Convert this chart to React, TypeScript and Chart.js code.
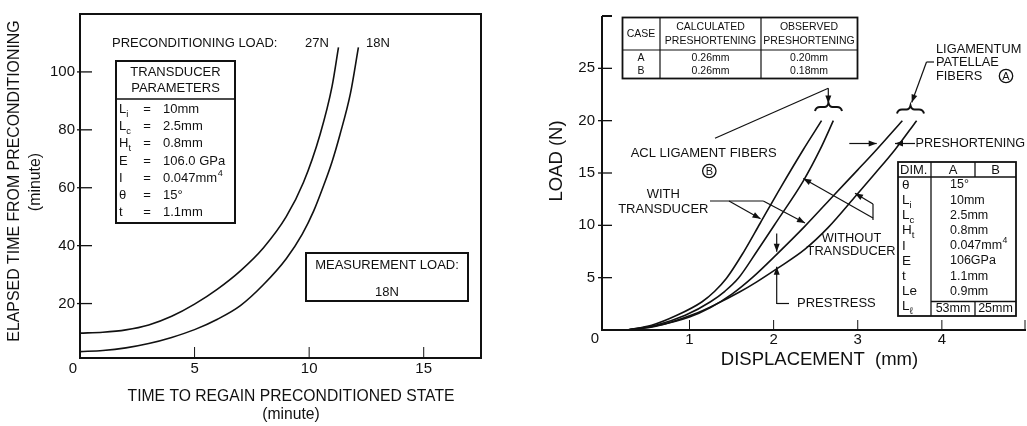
import React, { useEffect, useRef } from 'react';
import { Chart, registerables } from 'chart.js';

Chart.register(...registerables);

const FONT = "'Liberation Sans', Arial, Helvetica, sans-serif";
const INK = '#111111';

// ---------- Left panel data ----------
const load27X = [0, 1, 2, 3, 4, 5, 6, 7, 8, 9, 9.75, 10.48, 11, 11.28];
const load27Y = [9.8, 10.1, 10.9, 12.6, 15.6, 19.8, 25.0, 31.3, 39.2, 50, 61.8, 78.5, 95, 108.5];
const load18X = [0, 1, 2, 3, 4, 5, 6, 7, 8, 9, 9.7, 10.2, 10.62, 11.0, 11.35, 11.8, 12.15];
const load18Y = [3.4, 3.8, 4.7, 6.2, 8.3, 11, 14.6, 19.3, 26.5, 35.5, 44, 52, 60.5, 69, 78.5, 92.5, 108.5];
const leftXTicks = [0, 5, 10, 15];
const leftYTicks = [20, 40, 60, 80, 100];

// ---------- Right panel data ----------
const aclWithX = [0.26, 0.55, 0.85, 1.15, 1.3, 1.44, 1.64, 1.84, 2.09, 2.35, 2.57];
const aclWithY = [0, 0.45, 1.4, 2.7, 3.7, 4.94, 7.4, 10.2, 13.7, 17.2, 20];
const aclWithoutX = [0.26, 0.6, 0.95, 1.25, 1.42, 1.58, 1.8, 2.04, 2.35, 2.55, 2.71];
const aclWithoutY = [0, 0.45, 1.4, 2.7, 3.7, 4.94, 7.5, 10.4, 14.2, 17.2, 20];
const lpWithX = [0.26, 0.6, 1.0, 1.25, 1.5, 1.76, 2.04, 2.37, 2.73, 3.0, 3.22, 3.53];
const lpWithY = [0, 0.4, 1.25, 2.15, 3.4, 5.1, 7.25, 9.9, 13.0, 15.3, 17.2, 20];
const lpWithoutX = [0.26, 0.6, 1.05, 1.3, 1.6, 1.8, 2.04, 2.37, 2.65, 2.96, 3.2, 3.44, 3.7];
const lpWithoutY = [0, 0.35, 1.5, 2.4, 3.65, 4.6, 5.86, 7.7, 9.8, 12.65, 14.9, 17.2, 20];
const rightXTicks = [0, 1, 2, 3, 4, 5];
const rightYTicks = [5, 10, 15, 20, 25, 30];

// ---------- Table texts ----------
const transducerRows: [string, string, string, string][] = [
  ['L', 'i', '10mm', ''],
  ['L', 'c', '2.5mm', ''],
  ['H', 't', '0.8mm', ''],
  ['E', '', '106.0 GPa', ''],
  ['I', '', '0.047mm', '4'],
  ['θ', '', '15°', ''],
  ['t', '', '1.1mm', ''],
];
const caseRows: [string, string, string][] = [
  ['A', '0.26mm', '0.20mm'],
  ['B', '0.26mm', '0.18mm'],
];
const dimRows: [string, string, string, string][] = [
  ['θ', '', '15°', ''],
  ['L', 'i', '10mm', ''],
  ['L', 'c', '2.5mm', ''],
  ['H', 't', '0.8mm', ''],
  ['I', '', '0.047mm', '4'],
  ['E', '', '106GPa', ''],
  ['t', '', '1.1mm', ''],
  ['Le', '', '0.9mm', ''],
];
const dimLast = ['L', 'ℓ', '53mm', '25mm'];

function zip(xs: number[], ys: number[]) {
  return xs.map((x, i) => ({ x, y: ys[i] }));
}

function ds(xs: number[], ys: number[]) {
  return {
    data: zip(xs, ys),
    borderColor: INK,
    borderWidth: 1.6,
    pointRadius: 0,
    fill: false,
    cubicInterpolationMode: 'monotone' as const,
  };
}

function T(ctx: CanvasRenderingContext2D, s: string, x: number, y: number, size: number, align: CanvasTextAlign = 'left') {
  ctx.font = `${size}px ${FONT}`;
  ctx.textAlign = align;
  ctx.textBaseline = 'middle';
  ctx.fillStyle = INK;
  ctx.fillText(s, x, y);
}

function W(ctx: CanvasRenderingContext2D, s: string, size: number) {
  ctx.font = `${size}px ${FONT}`;
  return ctx.measureText(s).width;
}

function subLabel(ctx: CanvasRenderingContext2D, main: string, sub: string, x: number, y: number, size: number) {
  T(ctx, main, x, y, size);
  if (sub) {
    const w = W(ctx, main, size);
    T(ctx, sub, x + w, y + 5, size * 0.72);
  }
}

function supValue(ctx: CanvasRenderingContext2D, val: string, sup: string, x: number, y: number, size: number) {
  T(ctx, val, x, y, size);
  if (sup) {
    const w = W(ctx, val, size);
    T(ctx, sup, x + w + 0.5, y - 5, size * 0.7);
  }
}

function line(ctx: CanvasRenderingContext2D, x1: number, y1: number, x2: number, y2: number, lw = 1.2) {
  ctx.lineWidth = lw;
  ctx.strokeStyle = INK;
  ctx.beginPath();
  ctx.moveTo(x1, y1);
  ctx.lineTo(x2, y2);
  ctx.stroke();
}

function arrow(ctx: CanvasRenderingContext2D, x1: number, y1: number, x2: number, y2: number, len = 8, w = 3) {
  line(ctx, x1, y1, x2, y2);
  const a = Math.atan2(y2 - y1, x2 - x1);
  ctx.fillStyle = INK;
  ctx.beginPath();
  ctx.moveTo(x2, y2);
  ctx.lineTo(x2 - len * Math.cos(a) + w * Math.sin(a), y2 - len * Math.sin(a) - w * Math.cos(a));
  ctx.lineTo(x2 - len * Math.cos(a) - w * Math.sin(a), y2 - len * Math.sin(a) + w * Math.cos(a));
  ctx.closePath();
  ctx.fill();
}

function brace(ctx: CanvasRenderingContext2D, l: number, r: number, cy: number) {
  const cx = (l + r) / 2;
  ctx.lineWidth = 2;
  ctx.strokeStyle = INK;
  ctx.beginPath();
  ctx.moveTo(l, cy + 4);
  ctx.quadraticCurveTo(l + 1, cy, l + 5, cy);
  ctx.lineTo(cx - 4, cy);
  ctx.quadraticCurveTo(cx - 1, cy, cx, cy - 4);
  ctx.quadraticCurveTo(cx + 1, cy, cx + 4, cy);
  ctx.lineTo(r - 5, cy);
  ctx.quadraticCurveTo(r - 1, cy, r, cy + 4);
  ctx.stroke();
}

function circled(ctx: CanvasRenderingContext2D, letter: string, cx: number, cy: number, r: number) {
  ctx.lineWidth = 1.3;
  ctx.strokeStyle = INK;
  ctx.beginPath();
  ctx.arc(cx, cy, r, 0, Math.PI * 2);
  ctx.stroke();
  T(ctx, letter, cx, cy + 0.5, 11, 'center');
}

const leftDecor = {
  id: 'leftDecor',
  afterDraw(chart: any) {
    const ctx: CanvasRenderingContext2D = chart.ctx;
    const a = chart.chartArea;
    const xs = chart.scales.x;
    const ys = chart.scales.y;
    ctx.save();
    // frame
    ctx.lineWidth = 2;
    ctx.strokeStyle = INK;
    ctx.strokeRect(a.left, a.top, a.right - a.left, a.bottom - a.top);
    // ticks
    leftXTicks.forEach((v) => {
      if (v === 0) return;
      const px = xs.getPixelForValue(v);
      line(ctx, px, a.bottom, px, a.bottom - 11, 1);
    });
    leftYTicks.forEach((v) => {
      const py = ys.getPixelForValue(v);
      line(ctx, a.left - 3, py, a.left + 12, py, 1.3);
    });
    T(ctx, '0', 73, 369, 15, 'center');
    // axis titles
    T(ctx, 'TIME TO REGAIN PRECONDITIONED STATE', 291, 397, 15.7, 'center');
    T(ctx, '(minute)', 291, 415, 15.7, 'center');
    ctx.save();
    ctx.translate(15, 181);
    ctx.rotate(-Math.PI / 2);
    T(ctx, 'ELAPSED TIME FROM PRECONDITIONING', 0, 0, 15.9, 'center');
    ctx.restore();
    ctx.save();
    ctx.translate(36, 182);
    ctx.rotate(-Math.PI / 2);
    T(ctx, '(minute)', 0, 0, 15.9, 'center');
    ctx.restore();
    // preconditioning labels
    T(ctx, 'PRECONDITIONING LOAD:', 112, 43, 13);
    T(ctx, '27N', 305, 43, 13);
    T(ctx, '18N', 366, 43, 13);
    // transducer box
    ctx.lineWidth = 2;
    ctx.strokeStyle = INK;
    ctx.strokeRect(116, 61, 119, 162);
    line(ctx, 116, 99, 235, 99, 1.5);
    T(ctx, 'TRANSDUCER', 175.5, 72, 13, 'center');
    T(ctx, 'PARAMETERS', 175.5, 88, 13, 'center');
    transducerRows.forEach((r, i) => {
      const y = 109.5 + i * 17.2;
      subLabel(ctx, r[0], r[1], 119, y, 13);
      T(ctx, '=', 147, y, 13, 'center');
      supValue(ctx, r[2], r[3], 163, y, 13);
    });
    // measurement box
    ctx.lineWidth = 2;
    ctx.strokeRect(306, 253, 162, 48);
    T(ctx, 'MEASUREMENT LOAD:', 387, 265, 13, 'center');
    T(ctx, '18N', 387, 292, 13, 'center');
    ctx.restore();
  },
};

const OFF = 520;

const rightDecor = {
  id: 'rightDecor',
  afterDraw(chart: any) {
    const ctx: CanvasRenderingContext2D = chart.ctx;
    const a = chart.chartArea;
    const xs = chart.scales.x;
    const ys = chart.scales.y;
    ctx.save();
    // axes
    line(ctx, a.left, a.top, a.left, a.bottom + 1, 2);
    line(ctx, a.left - 1, a.bottom, a.right, a.bottom, 2);
    rightYTicks.forEach((v) => {
      const py = ys.getPixelForValue(v);
      if (v === 30) {
        line(ctx, a.left, py, a.left + 10, py, 2);
      } else {
        line(ctx, a.left - 4, py, a.left + 10, py, 1.3);
      }
    });
    rightXTicks.forEach((v) => {
      if (v === 0) return;
      const px = Math.min(xs.getPixelForValue(v), a.right - 1);
      line(ctx, px, a.bottom, px, a.bottom - 10, 1);
    });

    ctx.translate(-OFF, 0);
    T(ctx, '0', 595, 339, 15, 'center');
    // axis titles
    T(ctx, 'DISPLACEMENT  (mm)', 819.5, 360, 18.5, 'center');
    ctx.save();
    ctx.translate(556.5, 161);
    ctx.rotate(-Math.PI / 2);
    T(ctx, 'LOAD (N)', 0, 0, 18.5, 'center');
    ctx.restore();

    // case table
    ctx.lineWidth = 1.8;
    ctx.strokeStyle = INK;
    ctx.strokeRect(622.5, 17.5, 235, 61);
    line(ctx, 622.5, 50, 857.5, 50, 1.2);
    line(ctx, 660, 17.5, 660, 78.5, 1.2);
    line(ctx, 761, 17.5, 761, 78.5, 1.2);
    T(ctx, 'CASE', 641, 34, 10.5, 'center');
    T(ctx, 'CALCULATED', 710.5, 27, 10.5, 'center');
    T(ctx, 'PRESHORTENING', 710.5, 41, 10.5, 'center');
    T(ctx, 'OBSERVED', 809, 27, 10.5, 'center');
    T(ctx, 'PRESHORTENING', 809, 41, 10.5, 'center');
    caseRows.forEach((r, i) => {
      const y = 58 + i * 13.2;
      T(ctx, r[0], 641, y, 10.5, 'center');
      T(ctx, r[1], 710.5, y, 10.5, 'center');
      T(ctx, r[2], 809, y, 10.5, 'center');
    });

    // ligamentum patellae label
    T(ctx, 'LIGAMENTUM', 936, 49.5, 12.8);
    T(ctx, 'PATELLAE', 936, 62.5, 12.8);
    T(ctx, 'FIBERS', 936, 76, 12.8);
    circled(ctx, 'A', 1006, 76, 6.7);
    line(ctx, 934, 62, 926.5, 62);
    arrow(ctx, 926.5, 62, 911.7, 102.5);
    brace(ctx, 897, 924, 109.5);

    // ACL label
    T(ctx, 'ACL LIGAMENT FIBERS', 630.7, 153.5, 13);
    circled(ctx, 'B', 709.3, 171, 6.7);
    line(ctx, 715, 138.3, 828.3, 88.3);
    arrow(ctx, 828.3, 88.3, 828.3, 103.5);
    brace(ctx, 815, 842, 107);

    // with transducer
    T(ctx, 'WITH', 663.3, 194.5, 13, 'center');
    T(ctx, 'TRANSDUCER', 663.3, 209, 13, 'center');
    line(ctx, 710, 201, 763.3, 201);
    arrow(ctx, 729, 201, 760.5, 218.8);
    arrow(ctx, 763.3, 201, 805, 223);

    // without transducer
    T(ctx, 'WITHOUT', 851.5, 238, 12.8, 'center');
    T(ctx, 'TRANSDUCER', 851, 251.5, 12.8, 'center');
    line(ctx, 873, 204, 873, 220);
    arrow(ctx, 873, 204, 855, 193.3);
    arrow(ctx, 873, 218, 803.3, 178.5);

    // preshortening
    T(ctx, 'PRESHORTENING', 915.5, 143.5, 12.6);
    arrow(ctx, 849.3, 143.5, 876.7, 143.5);
    arrow(ctx, 915, 143.5, 895, 143.5);

    // prestress
    arrow(ctx, 776.7, 233.5, 776.7, 251.7);
    line(ctx, 776.7, 303.5, 789, 303.5);
    arrow(ctx, 776.7, 304, 776.7, 266.7);
    T(ctx, 'PRESTRESS', 797, 303, 13);

    // dim table
    ctx.lineWidth = 1.8;
    ctx.strokeStyle = INK;
    ctx.strokeRect(898, 162, 118, 154);
    line(ctx, 898, 177, 1016, 177, 1.3);
    line(ctx, 931, 162, 931, 316, 1.3);
    line(ctx, 975, 162, 975, 177, 1.3);
    line(ctx, 931, 301.5, 1016, 301.5, 1.3);
    line(ctx, 975, 301.5, 975, 316, 1.3);
    T(ctx, 'DIM.', 900, 170, 13);
    T(ctx, 'A', 953, 170, 13, 'center');
    T(ctx, 'B', 995.5, 170, 13, 'center');
    dimRows.forEach((r, i) => {
      const y = 185 + i * 15.2;
      subLabel(ctx, r[0], r[1], 902, y, 13.5);
      supValue(ctx, r[2], r[3], 950, y, 12.5);
    });
    subLabel(ctx, dimLast[0], dimLast[1], 902, 306.5, 13.5);
    T(ctx, dimLast[2], 953, 308.5, 12.5, 'center');
    T(ctx, dimLast[3], 995.5, 308.5, 12.5, 'center');

    ctx.restore();
  },
};

function leftConfig(): any {
  return {
    type: 'line',
    data: { datasets: [ds(load27X, load27Y), ds(load18X, load18Y)] },
    options: {
      responsive: false,
      animation: false,
      devicePixelRatio: 1,
      layout: { padding: { top: 7, right: 39, left: 0, bottom: 0 } },
      plugins: { legend: { display: false }, tooltip: { enabled: false } },
      scales: {
        x: {
          type: 'linear',
          min: 0,
          max: 17.5,
          grid: { display: false, drawTicks: false },
          border: { display: false },
          afterBuildTicks: (s: any) => { s.ticks = leftXTicks.map((v) => ({ value: v })); },
          afterFit: (s: any) => { s.height = 68; },
          ticks: {
            padding: 2, autoSkip: false, maxRotation: 0, color: INK,
            font: { family: FONT, size: 15 },
            callback: (v: any) => (v === 0 ? '' : String(v)),
          },
        },
        y: {
          type: 'linear',
          min: 1.2,
          max: 120,
          grid: { display: false, drawTicks: false },
          border: { display: false },
          afterBuildTicks: (s: any) => { s.ticks = leftYTicks.map((v) => ({ value: v })); },
          afterFit: (s: any) => { s.width = 80; },
          ticks: {
            padding: 5, autoSkip: false, color: INK,
            font: { family: FONT, size: 15 },
            callback: (v: any) => String(v),
          },
        },
      },
    },
    plugins: [leftDecor],
  };
}

function rightConfig(): any {
  return {
    type: 'line',
    data: {
      datasets: [
        ds(aclWithX, aclWithY),
        ds(aclWithoutX, aclWithoutY),
        ds(lpWithX, lpWithY),
        ds(lpWithoutX, lpWithoutY),
      ],
    },
    options: {
      responsive: false,
      animation: false,
      devicePixelRatio: 1,
      layout: { padding: { top: 6, right: 0, left: 0, bottom: 0 } },
      plugins: { legend: { display: false }, tooltip: { enabled: false } },
      scales: {
        x: {
          type: 'linear',
          min: -0.04,
          max: 5,
          grid: { display: false, drawTicks: false },
          border: { display: false },
          afterBuildTicks: (s: any) => { s.ticks = rightXTicks.map((v) => ({ value: v })); },
          afterFit: (s: any) => { s.height = 96; },
          ticks: {
            padding: 1, autoSkip: false, maxRotation: 0, color: INK,
            font: { family: FONT, size: 15 },
            callback: (v: any) => (v === 0 || v === 5 ? '' : String(v)),
          },
        },
        y: {
          type: 'linear',
          min: 0,
          max: 30,
          grid: { display: false, drawTicks: false },
          border: { display: false },
          afterBuildTicks: (s: any) => { s.ticks = rightYTicks.map((v) => ({ value: v })); },
          afterFit: (s: any) => { s.width = 82; },
          ticks: {
            padding: 7, autoSkip: false, color: INK,
            font: { family: FONT, size: 15 },
            callback: (v: any) => (v === 30 ? '' : String(v)),
          },
        },
      },
    },
    plugins: [rightDecor],
  };
}

export default function App() {
  const leftRef = useRef<HTMLCanvasElement>(null);
  const rightRef = useRef<HTMLCanvasElement>(null);
  useEffect(() => {
    const c1 = new Chart(leftRef.current as HTMLCanvasElement, leftConfig());
    const c2 = new Chart(rightRef.current as HTMLCanvasElement, rightConfig());
    return () => {
      c1.destroy();
      c2.destroy();
    };
  }, []);
  return (
    <div style={{ position: 'absolute', left: 0, top: 0, width: 1027, height: 426, background: '#fff' }}>
      <canvas ref={leftRef} width={520} height={426} style={{ position: 'absolute', left: 0, top: 0, width: 520, height: 426 }} />
      <canvas ref={rightRef} width={507} height={426} style={{ position: 'absolute', left: 520, top: 0, width: 507, height: 426 }} />
    </div>
  );
}
